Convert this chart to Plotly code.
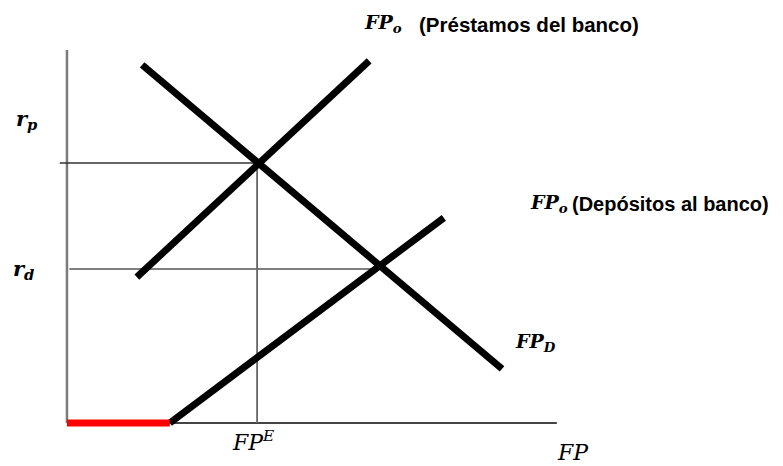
import plotly.graph_objects as go

# Data (conceptual units: FP on x, interest rate on y)
loan_supply_x = [1.44, 6.23]
loan_supply_y = [3.91, 9.71]
demand_x = [1.55, 8.97]
demand_y = [9.60, 1.45]
deposit_supply_x = [2.12, 7.77]
deposit_supply_y = [0.0, 5.50]
red_segment_x = [0.0, 2.12]
red_segment_y = [0.0, 0.0]
eq_loan = (3.92, 6.97)      # (FP^E, r_p)
eq_deposit = (6.45, 4.13)   # (FP at r_d, r_d)
axis_x_max = 10.1
axis_y_max = 10.0

fig = go.Figure()

def seg(x, y, color, width):
    fig.add_trace(go.Scatter(x=x, y=y, mode="lines",
                             line=dict(color=color, width=width),
                             hoverinfo="skip", showlegend=False))

# axes
seg([0, 0], [0, axis_y_max], "#7a7a7a", 2.5)
seg([0, axis_x_max], [0, 0], "#444444", 2)
# guide lines
seg([-0.15, eq_loan[0]], [eq_loan[1], eq_loan[1]], "#333333", 1.3)
seg([0.05, eq_deposit[0]], [eq_deposit[1], eq_deposit[1]], "#555555", 1.5)
seg([eq_loan[0], eq_loan[0]], [0, eq_loan[1]], "#666666", 1.8)
# curves
seg(loan_supply_x, loan_supply_y, "black", 7)
seg(demand_x, demand_y, "black", 7)
seg(deposit_supply_x, deposit_supply_y, "black", 7)
seg(red_segment_x, red_segment_y, "#ff0000", 7)

serif = "DejaVu Serif"
sans = "Liberation Sans"

def ann(x, y, text, size, family, xanchor="left"):
    fig.add_annotation(x=x, y=y, xref="x", yref="y", text=text, showarrow=False,
                       xanchor=xanchor, yanchor="middle",
                       font=dict(family=family, size=size, color="black"))

ann(6.08, 10.70, "<b><i>FP</i></b><sub><b><i>o</i></b></sub>", 19, serif)
ann(7.22, 10.68, "<b>(Préstamos del banco)</b>", 20.5, sans)
ann(9.50, 5.88, "<b><i>FP</i></b><sub><b><i>o</i></b></sub>", 19, serif)
ann(10.38, 5.86, "<b>(Depósitos al banco)</b>", 20, sans)
ann(9.20, 2.16, "<b><i>FP</i></b><sub><b><i>D</i></b></sub>", 19, serif)
ann(-1.10, 8.15, "<b><i>r</i></b><sub><b><i>p</i></b></sub>", 21, serif)
ann(-1.15, 4.12, "<b><i>r</i></b><sub><b><i>d</i></b></sub>", 21, serif)
ann(3.36, -0.48, "<i>FP</i><sup><i>E</i></sup>", 22, serif)
ann(10.06, -0.80, "<i>FP</i>", 22, serif)

# page body has an 8px margin: shift ranges so marks land at reference pixels
fig.update_layout(
    width=783, height=466,
    margin=dict(l=0, r=0, t=0, b=0),
    paper_bgcolor="white", plot_bgcolor="white",
    xaxis=dict(range=[-1.216, 14.928], visible=False, fixedrange=True),
    yaxis=dict(range=[-1.367, 11.126], visible=False, fixedrange=True),
)

fig.write_html("out.html")
